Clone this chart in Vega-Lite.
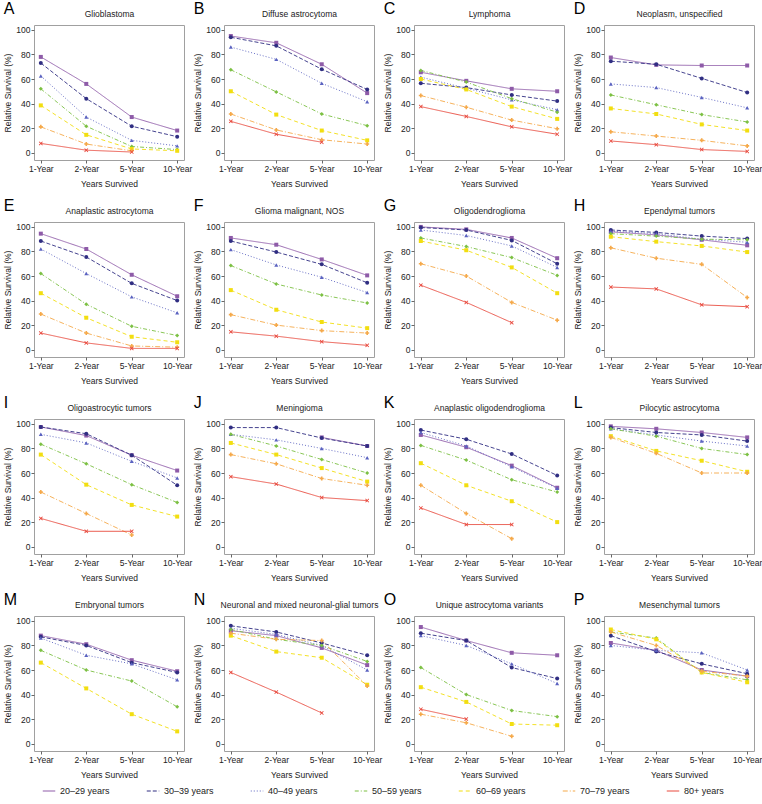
{
"$schema":"https://vega.github.io/schema/vega-lite/v6.json",
"padding":{"left":3,"top":0,"right":0,"bottom":0},
"data":{"name":"d"},
"datasets":{"d":[
{"p":"A","a":"20–29 years","x":"1-Year","v":78},{"p":"A","a":"20–29 years","x":"2-Year","v":56},{"p":"A","a":"20–29 years","x":"5-Year","v":29},{"p":"A","a":"20–29 years","x":"10-Year","v":18},
{"p":"A","a":"30–39 years","x":"1-Year","v":73},{"p":"A","a":"30–39 years","x":"2-Year","v":44},{"p":"A","a":"30–39 years","x":"5-Year","v":21.5},{"p":"A","a":"30–39 years","x":"10-Year","v":13},
{"p":"A","a":"40–49 years","x":"1-Year","v":62.5},{"p":"A","a":"40–49 years","x":"2-Year","v":29},{"p":"A","a":"40–49 years","x":"5-Year","v":10},{"p":"A","a":"40–49 years","x":"10-Year","v":5.5},
{"p":"A","a":"50–59 years","x":"1-Year","v":52},{"p":"A","a":"50–59 years","x":"2-Year","v":21.5},{"p":"A","a":"50–59 years","x":"5-Year","v":5},{"p":"A","a":"50–59 years","x":"10-Year","v":2.5},
{"p":"A","a":"60–69 years","x":"1-Year","v":38.5},{"p":"A","a":"60–69 years","x":"2-Year","v":14.5},{"p":"A","a":"60–69 years","x":"5-Year","v":3},{"p":"A","a":"60–69 years","x":"10-Year","v":1.5},
{"p":"A","a":"70–79 years","x":"1-Year","v":21},{"p":"A","a":"70–79 years","x":"2-Year","v":7},{"p":"A","a":"70–79 years","x":"5-Year","v":1.5},
{"p":"A","a":"80+ years","x":"1-Year","v":7.5},{"p":"A","a":"80+ years","x":"2-Year","v":2},{"p":"A","a":"80+ years","x":"5-Year","v":0.5},

{"p":"B","a":"20–29 years","x":"1-Year","v":95},{"p":"B","a":"20–29 years","x":"2-Year","v":89.5},{"p":"B","a":"20–29 years","x":"5-Year","v":72},{"p":"B","a":"20–29 years","x":"10-Year","v":48.5},
{"p":"B","a":"30–39 years","x":"1-Year","v":94},{"p":"B","a":"30–39 years","x":"2-Year","v":87},{"p":"B","a":"30–39 years","x":"5-Year","v":68},{"p":"B","a":"30–39 years","x":"10-Year","v":51.5},
{"p":"B","a":"40–49 years","x":"1-Year","v":86},{"p":"B","a":"40–49 years","x":"2-Year","v":76},{"p":"B","a":"40–49 years","x":"5-Year","v":56.5},{"p":"B","a":"40–49 years","x":"10-Year","v":41.5},
{"p":"B","a":"50–59 years","x":"1-Year","v":67.5},{"p":"B","a":"50–59 years","x":"2-Year","v":49.5},{"p":"B","a":"50–59 years","x":"5-Year","v":31.5},{"p":"B","a":"50–59 years","x":"10-Year","v":22},
{"p":"B","a":"60–69 years","x":"1-Year","v":50},{"p":"B","a":"60–69 years","x":"2-Year","v":31},{"p":"B","a":"60–69 years","x":"5-Year","v":18},{"p":"B","a":"60–69 years","x":"10-Year","v":10},
{"p":"B","a":"70–79 years","x":"1-Year","v":31.5},{"p":"B","a":"70–79 years","x":"2-Year","v":18.5},{"p":"B","a":"70–79 years","x":"5-Year","v":10.5},{"p":"B","a":"70–79 years","x":"10-Year","v":7},
{"p":"B","a":"80+ years","x":"1-Year","v":25.5},{"p":"B","a":"80+ years","x":"2-Year","v":15},{"p":"B","a":"80+ years","x":"5-Year","v":8.5},

{"p":"C","a":"20–29 years","x":"1-Year","v":65.5},{"p":"C","a":"20–29 years","x":"2-Year","v":58.5},{"p":"C","a":"20–29 years","x":"5-Year","v":52},{"p":"C","a":"20–29 years","x":"10-Year","v":50},
{"p":"C","a":"30–39 years","x":"1-Year","v":56.5},{"p":"C","a":"30–39 years","x":"2-Year","v":53},{"p":"C","a":"30–39 years","x":"5-Year","v":47},{"p":"C","a":"30–39 years","x":"10-Year","v":42},
{"p":"C","a":"40–49 years","x":"1-Year","v":61.5},{"p":"C","a":"40–49 years","x":"2-Year","v":52.5},{"p":"C","a":"40–49 years","x":"5-Year","v":43},{"p":"C","a":"40–49 years","x":"10-Year","v":35},
{"p":"C","a":"50–59 years","x":"1-Year","v":67},{"p":"C","a":"50–59 years","x":"2-Year","v":57.5},{"p":"C","a":"50–59 years","x":"5-Year","v":44},{"p":"C","a":"50–59 years","x":"10-Year","v":33},
{"p":"C","a":"60–69 years","x":"1-Year","v":60},{"p":"C","a":"60–69 years","x":"2-Year","v":51.5},{"p":"C","a":"60–69 years","x":"5-Year","v":37.5},{"p":"C","a":"60–69 years","x":"10-Year","v":27.5},
{"p":"C","a":"70–79 years","x":"1-Year","v":46.5},{"p":"C","a":"70–79 years","x":"2-Year","v":37},{"p":"C","a":"70–79 years","x":"5-Year","v":26.5},{"p":"C","a":"70–79 years","x":"10-Year","v":19.5},
{"p":"C","a":"80+ years","x":"1-Year","v":37.5},{"p":"C","a":"80+ years","x":"2-Year","v":29.5},{"p":"C","a":"80+ years","x":"5-Year","v":21},{"p":"C","a":"80+ years","x":"10-Year","v":15},

{"p":"D","a":"20–29 years","x":"1-Year","v":77.5},{"p":"D","a":"20–29 years","x":"2-Year","v":71.5},{"p":"D","a":"20–29 years","x":"5-Year","v":71},{"p":"D","a":"20–29 years","x":"10-Year","v":71},
{"p":"D","a":"30–39 years","x":"1-Year","v":74.5},{"p":"D","a":"30–39 years","x":"2-Year","v":72},{"p":"D","a":"30–39 years","x":"5-Year","v":60.5},{"p":"D","a":"30–39 years","x":"10-Year","v":49},
{"p":"D","a":"40–49 years","x":"1-Year","v":56},{"p":"D","a":"40–49 years","x":"2-Year","v":53},{"p":"D","a":"40–49 years","x":"5-Year","v":45},{"p":"D","a":"40–49 years","x":"10-Year","v":36.5},
{"p":"D","a":"50–59 years","x":"1-Year","v":47},{"p":"D","a":"50–59 years","x":"2-Year","v":39},{"p":"D","a":"50–59 years","x":"5-Year","v":31},{"p":"D","a":"50–59 years","x":"10-Year","v":25},
{"p":"D","a":"60–69 years","x":"1-Year","v":36},{"p":"D","a":"60–69 years","x":"2-Year","v":31.5},{"p":"D","a":"60–69 years","x":"5-Year","v":23},{"p":"D","a":"60–69 years","x":"10-Year","v":18},
{"p":"D","a":"70–79 years","x":"1-Year","v":17},{"p":"D","a":"70–79 years","x":"2-Year","v":13.5},{"p":"D","a":"70–79 years","x":"5-Year","v":10},{"p":"D","a":"70–79 years","x":"10-Year","v":5.5},
{"p":"D","a":"80+ years","x":"1-Year","v":9.5},{"p":"D","a":"80+ years","x":"2-Year","v":6.5},{"p":"D","a":"80+ years","x":"5-Year","v":2.5},{"p":"D","a":"80+ years","x":"10-Year","v":1},

{"p":"E","a":"20–29 years","x":"1-Year","v":94.5},{"p":"E","a":"20–29 years","x":"2-Year","v":82},{"p":"E","a":"20–29 years","x":"5-Year","v":61},{"p":"E","a":"20–29 years","x":"10-Year","v":43.5},
{"p":"E","a":"30–39 years","x":"1-Year","v":88.5},{"p":"E","a":"30–39 years","x":"2-Year","v":75.5},{"p":"E","a":"30–39 years","x":"5-Year","v":54},{"p":"E","a":"30–39 years","x":"10-Year","v":40},
{"p":"E","a":"40–49 years","x":"1-Year","v":82},{"p":"E","a":"40–49 years","x":"2-Year","v":62},{"p":"E","a":"40–49 years","x":"5-Year","v":43},{"p":"E","a":"40–49 years","x":"10-Year","v":30},
{"p":"E","a":"50–59 years","x":"1-Year","v":62},{"p":"E","a":"50–59 years","x":"2-Year","v":37},{"p":"E","a":"50–59 years","x":"5-Year","v":19},{"p":"E","a":"50–59 years","x":"10-Year","v":11.5},
{"p":"E","a":"60–69 years","x":"1-Year","v":46},{"p":"E","a":"60–69 years","x":"2-Year","v":26},{"p":"E","a":"60–69 years","x":"5-Year","v":10.5},{"p":"E","a":"60–69 years","x":"10-Year","v":6},
{"p":"E","a":"70–79 years","x":"1-Year","v":29},{"p":"E","a":"70–79 years","x":"2-Year","v":13.5},{"p":"E","a":"70–79 years","x":"5-Year","v":3},{"p":"E","a":"70–79 years","x":"10-Year","v":2},
{"p":"E","a":"80+ years","x":"1-Year","v":13.5},{"p":"E","a":"80+ years","x":"2-Year","v":5.5},{"p":"E","a":"80+ years","x":"5-Year","v":1},{"p":"E","a":"80+ years","x":"10-Year","v":1},

{"p":"F","a":"20–29 years","x":"1-Year","v":91},{"p":"F","a":"20–29 years","x":"2-Year","v":85.5},{"p":"F","a":"20–29 years","x":"5-Year","v":73.5},{"p":"F","a":"20–29 years","x":"10-Year","v":60.5},
{"p":"F","a":"30–39 years","x":"1-Year","v":88.5},{"p":"F","a":"30–39 years","x":"2-Year","v":79.5},{"p":"F","a":"30–39 years","x":"5-Year","v":69.5},{"p":"F","a":"30–39 years","x":"10-Year","v":54.5},
{"p":"F","a":"40–49 years","x":"1-Year","v":81.5},{"p":"F","a":"40–49 years","x":"2-Year","v":69},{"p":"F","a":"40–49 years","x":"5-Year","v":59},{"p":"F","a":"40–49 years","x":"10-Year","v":46.5},
{"p":"F","a":"50–59 years","x":"1-Year","v":68.5},{"p":"F","a":"50–59 years","x":"2-Year","v":53.5},{"p":"F","a":"50–59 years","x":"5-Year","v":44.5},{"p":"F","a":"50–59 years","x":"10-Year","v":38},
{"p":"F","a":"60–69 years","x":"1-Year","v":48.5},{"p":"F","a":"60–69 years","x":"2-Year","v":32.5},{"p":"F","a":"60–69 years","x":"5-Year","v":22.5},{"p":"F","a":"60–69 years","x":"10-Year","v":17.5},
{"p":"F","a":"70–79 years","x":"1-Year","v":28.5},{"p":"F","a":"70–79 years","x":"2-Year","v":20},{"p":"F","a":"70–79 years","x":"5-Year","v":15.5},{"p":"F","a":"70–79 years","x":"10-Year","v":13.5},
{"p":"F","a":"80+ years","x":"1-Year","v":14.5},{"p":"F","a":"80+ years","x":"2-Year","v":11},{"p":"F","a":"80+ years","x":"5-Year","v":6.5},{"p":"F","a":"80+ years","x":"10-Year","v":3.5},

{"p":"G","a":"20–29 years","x":"1-Year","v":100},{"p":"G","a":"20–29 years","x":"2-Year","v":98},{"p":"G","a":"20–29 years","x":"5-Year","v":91},{"p":"G","a":"20–29 years","x":"10-Year","v":74.5},
{"p":"G","a":"30–39 years","x":"1-Year","v":99.5},{"p":"G","a":"30–39 years","x":"2-Year","v":97.5},{"p":"G","a":"30–39 years","x":"5-Year","v":89},{"p":"G","a":"30–39 years","x":"10-Year","v":70},
{"p":"G","a":"40–49 years","x":"1-Year","v":97.5},{"p":"G","a":"40–49 years","x":"2-Year","v":93},{"p":"G","a":"40–49 years","x":"5-Year","v":84.5},{"p":"G","a":"40–49 years","x":"10-Year","v":67},
{"p":"G","a":"50–59 years","x":"1-Year","v":91},{"p":"G","a":"50–59 years","x":"2-Year","v":84},{"p":"G","a":"50–59 years","x":"5-Year","v":75},{"p":"G","a":"50–59 years","x":"10-Year","v":60.5},
{"p":"G","a":"60–69 years","x":"1-Year","v":88.5},{"p":"G","a":"60–69 years","x":"2-Year","v":81},{"p":"G","a":"60–69 years","x":"5-Year","v":67},{"p":"G","a":"60–69 years","x":"10-Year","v":46},
{"p":"G","a":"70–79 years","x":"1-Year","v":70},{"p":"G","a":"70–79 years","x":"2-Year","v":60},{"p":"G","a":"70–79 years","x":"5-Year","v":38.5},{"p":"G","a":"70–79 years","x":"10-Year","v":24},
{"p":"G","a":"80+ years","x":"1-Year","v":52.5},{"p":"G","a":"80+ years","x":"2-Year","v":38.5},{"p":"G","a":"80+ years","x":"5-Year","v":22},

{"p":"H","a":"20–29 years","x":"1-Year","v":96},{"p":"H","a":"20–29 years","x":"2-Year","v":93.5},{"p":"H","a":"20–29 years","x":"5-Year","v":89.5},{"p":"H","a":"20–29 years","x":"10-Year","v":85},
{"p":"H","a":"30–39 years","x":"1-Year","v":97.5},{"p":"H","a":"30–39 years","x":"2-Year","v":95.5},{"p":"H","a":"30–39 years","x":"5-Year","v":92.5},{"p":"H","a":"30–39 years","x":"10-Year","v":90.5},
{"p":"H","a":"40–49 years","x":"1-Year","v":96.5},{"p":"H","a":"40–49 years","x":"2-Year","v":94.5},{"p":"H","a":"40–49 years","x":"5-Year","v":90},{"p":"H","a":"40–49 years","x":"10-Year","v":87.5},
{"p":"H","a":"50–59 years","x":"1-Year","v":94.5},{"p":"H","a":"50–59 years","x":"2-Year","v":92.5},{"p":"H","a":"50–59 years","x":"5-Year","v":90},{"p":"H","a":"50–59 years","x":"10-Year","v":89.5},
{"p":"H","a":"60–69 years","x":"1-Year","v":92},{"p":"H","a":"60–69 years","x":"2-Year","v":88},{"p":"H","a":"60–69 years","x":"5-Year","v":84.5},{"p":"H","a":"60–69 years","x":"10-Year","v":79.5},
{"p":"H","a":"70–79 years","x":"1-Year","v":83},{"p":"H","a":"70–79 years","x":"2-Year","v":74.5},{"p":"H","a":"70–79 years","x":"5-Year","v":69.5},{"p":"H","a":"70–79 years","x":"10-Year","v":42.5},
{"p":"H","a":"80+ years","x":"1-Year","v":51},{"p":"H","a":"80+ years","x":"2-Year","v":49.5},{"p":"H","a":"80+ years","x":"5-Year","v":36.5},{"p":"H","a":"80+ years","x":"10-Year","v":35},

{"p":"I","a":"20–29 years","x":"1-Year","v":97.5},{"p":"I","a":"20–29 years","x":"2-Year","v":90.5},{"p":"I","a":"20–29 years","x":"5-Year","v":74.5},{"p":"I","a":"20–29 years","x":"10-Year","v":62},
{"p":"I","a":"30–39 years","x":"1-Year","v":97.5},{"p":"I","a":"30–39 years","x":"2-Year","v":92},{"p":"I","a":"30–39 years","x":"5-Year","v":74.5},{"p":"I","a":"30–39 years","x":"10-Year","v":50},
{"p":"I","a":"40–49 years","x":"1-Year","v":91.5},{"p":"I","a":"40–49 years","x":"2-Year","v":84.5},{"p":"I","a":"40–49 years","x":"5-Year","v":69.5},{"p":"I","a":"40–49 years","x":"10-Year","v":56},
{"p":"I","a":"50–59 years","x":"1-Year","v":83.5},{"p":"I","a":"50–59 years","x":"2-Year","v":67.5},{"p":"I","a":"50–59 years","x":"5-Year","v":50.5},{"p":"I","a":"50–59 years","x":"10-Year","v":36},
{"p":"I","a":"60–69 years","x":"1-Year","v":75},{"p":"I","a":"60–69 years","x":"2-Year","v":50.5},{"p":"I","a":"60–69 years","x":"5-Year","v":34},{"p":"I","a":"60–69 years","x":"10-Year","v":24.5},
{"p":"I","a":"70–79 years","x":"1-Year","v":44.5},{"p":"I","a":"70–79 years","x":"2-Year","v":27},{"p":"I","a":"70–79 years","x":"5-Year","v":9.5},
{"p":"I","a":"80+ years","x":"1-Year","v":23},{"p":"I","a":"80+ years","x":"2-Year","v":12.5},{"p":"I","a":"80+ years","x":"5-Year","v":12.5},

{"p":"J","a":"20–29 years","x":"5-Year","v":89},{"p":"J","a":"20–29 years","x":"10-Year","v":82},
{"p":"J","a":"30–39 years","x":"1-Year","v":97},{"p":"J","a":"30–39 years","x":"2-Year","v":97},{"p":"J","a":"30–39 years","x":"5-Year","v":88.5},{"p":"J","a":"30–39 years","x":"10-Year","v":82},
{"p":"J","a":"40–49 years","x":"1-Year","v":91.5},{"p":"J","a":"40–49 years","x":"2-Year","v":87},{"p":"J","a":"40–49 years","x":"5-Year","v":80},{"p":"J","a":"40–49 years","x":"10-Year","v":72.5},
{"p":"J","a":"50–59 years","x":"1-Year","v":91.5},{"p":"J","a":"50–59 years","x":"2-Year","v":82},{"p":"J","a":"50–59 years","x":"5-Year","v":71},{"p":"J","a":"50–59 years","x":"10-Year","v":60},
{"p":"J","a":"60–69 years","x":"1-Year","v":84.5},{"p":"J","a":"60–69 years","x":"2-Year","v":75},{"p":"J","a":"60–69 years","x":"5-Year","v":64},{"p":"J","a":"60–69 years","x":"10-Year","v":53},
{"p":"J","a":"70–79 years","x":"1-Year","v":75},{"p":"J","a":"70–79 years","x":"2-Year","v":67.5},{"p":"J","a":"70–79 years","x":"5-Year","v":55.5},{"p":"J","a":"70–79 years","x":"10-Year","v":50},
{"p":"J","a":"80+ years","x":"1-Year","v":57},{"p":"J","a":"80+ years","x":"2-Year","v":51},{"p":"J","a":"80+ years","x":"5-Year","v":40},{"p":"J","a":"80+ years","x":"10-Year","v":37.5},

{"p":"K","a":"20–29 years","x":"1-Year","v":91},{"p":"K","a":"20–29 years","x":"2-Year","v":81},{"p":"K","a":"20–29 years","x":"5-Year","v":66},{"p":"K","a":"20–29 years","x":"10-Year","v":48},
{"p":"K","a":"30–39 years","x":"1-Year","v":95},{"p":"K","a":"30–39 years","x":"2-Year","v":87.5},{"p":"K","a":"30–39 years","x":"5-Year","v":75.5},{"p":"K","a":"30–39 years","x":"10-Year","v":58},
{"p":"K","a":"40–49 years","x":"1-Year","v":93},{"p":"K","a":"40–49 years","x":"2-Year","v":82},{"p":"K","a":"40–49 years","x":"5-Year","v":65},{"p":"K","a":"40–49 years","x":"10-Year","v":47.5},
{"p":"K","a":"50–59 years","x":"1-Year","v":82.5},{"p":"K","a":"50–59 years","x":"2-Year","v":70.5},{"p":"K","a":"50–59 years","x":"5-Year","v":54.5},{"p":"K","a":"50–59 years","x":"10-Year","v":44.5},
{"p":"K","a":"60–69 years","x":"1-Year","v":68},{"p":"K","a":"60–69 years","x":"2-Year","v":50},{"p":"K","a":"60–69 years","x":"5-Year","v":37},{"p":"K","a":"60–69 years","x":"10-Year","v":20},
{"p":"K","a":"70–79 years","x":"1-Year","v":50},{"p":"K","a":"70–79 years","x":"2-Year","v":27},{"p":"K","a":"70–79 years","x":"5-Year","v":6.5},
{"p":"K","a":"80+ years","x":"1-Year","v":31.5},{"p":"K","a":"80+ years","x":"2-Year","v":18},{"p":"K","a":"80+ years","x":"5-Year","v":18},

{"p":"L","a":"20–29 years","x":"1-Year","v":98},{"p":"L","a":"20–29 years","x":"2-Year","v":96},{"p":"L","a":"20–29 years","x":"5-Year","v":93},{"p":"L","a":"20–29 years","x":"10-Year","v":89},
{"p":"L","a":"30–39 years","x":"1-Year","v":97},{"p":"L","a":"30–39 years","x":"2-Year","v":93},{"p":"L","a":"30–39 years","x":"5-Year","v":91},{"p":"L","a":"30–39 years","x":"10-Year","v":86},
{"p":"L","a":"40–49 years","x":"1-Year","v":96},{"p":"L","a":"40–49 years","x":"2-Year","v":91},{"p":"L","a":"40–49 years","x":"5-Year","v":86},{"p":"L","a":"40–49 years","x":"10-Year","v":82},
{"p":"L","a":"50–59 years","x":"1-Year","v":96},{"p":"L","a":"50–59 years","x":"2-Year","v":90},{"p":"L","a":"50–59 years","x":"5-Year","v":80},{"p":"L","a":"50–59 years","x":"10-Year","v":75},
{"p":"L","a":"60–69 years","x":"1-Year","v":90},{"p":"L","a":"60–69 years","x":"2-Year","v":78},{"p":"L","a":"60–69 years","x":"5-Year","v":70},{"p":"L","a":"60–69 years","x":"10-Year","v":61},
{"p":"L","a":"70–79 years","x":"1-Year","v":89},{"p":"L","a":"70–79 years","x":"2-Year","v":76},{"p":"L","a":"70–79 years","x":"5-Year","v":60},{"p":"L","a":"70–79 years","x":"10-Year","v":60},

{"p":"M","a":"20–29 years","x":"1-Year","v":88},{"p":"M","a":"20–29 years","x":"2-Year","v":81},{"p":"M","a":"20–29 years","x":"5-Year","v":68},{"p":"M","a":"20–29 years","x":"10-Year","v":59},
{"p":"M","a":"30–39 years","x":"1-Year","v":87},{"p":"M","a":"30–39 years","x":"2-Year","v":80},{"p":"M","a":"30–39 years","x":"5-Year","v":66},{"p":"M","a":"30–39 years","x":"10-Year","v":58},
{"p":"M","a":"40–49 years","x":"1-Year","v":86},{"p":"M","a":"40–49 years","x":"2-Year","v":72},{"p":"M","a":"40–49 years","x":"5-Year","v":65},{"p":"M","a":"40–49 years","x":"10-Year","v":52},
{"p":"M","a":"50–59 years","x":"1-Year","v":76},{"p":"M","a":"50–59 years","x":"2-Year","v":60},{"p":"M","a":"50–59 years","x":"5-Year","v":51},{"p":"M","a":"50–59 years","x":"10-Year","v":30},
{"p":"M","a":"60–69 years","x":"1-Year","v":66},{"p":"M","a":"60–69 years","x":"2-Year","v":45},{"p":"M","a":"60–69 years","x":"5-Year","v":24},{"p":"M","a":"60–69 years","x":"10-Year","v":10},

{"p":"N","a":"20–29 years","x":"1-Year","v":92},{"p":"N","a":"20–29 years","x":"2-Year","v":88},{"p":"N","a":"20–29 years","x":"5-Year","v":78},{"p":"N","a":"20–29 years","x":"10-Year","v":64},
{"p":"N","a":"30–39 years","x":"1-Year","v":96},{"p":"N","a":"30–39 years","x":"2-Year","v":91},{"p":"N","a":"30–39 years","x":"5-Year","v":82},{"p":"N","a":"30–39 years","x":"10-Year","v":72},
{"p":"N","a":"40–49 years","x":"1-Year","v":94},{"p":"N","a":"40–49 years","x":"2-Year","v":89},{"p":"N","a":"40–49 years","x":"5-Year","v":80},{"p":"N","a":"40–49 years","x":"10-Year","v":60},
{"p":"N","a":"50–59 years","x":"1-Year","v":93},{"p":"N","a":"50–59 years","x":"2-Year","v":85},{"p":"N","a":"50–59 years","x":"5-Year","v":80},{"p":"N","a":"50–59 years","x":"10-Year","v":67},
{"p":"N","a":"60–69 years","x":"1-Year","v":88},{"p":"N","a":"60–69 years","x":"2-Year","v":75},{"p":"N","a":"60–69 years","x":"5-Year","v":70},{"p":"N","a":"60–69 years","x":"10-Year","v":48},
{"p":"N","a":"70–79 years","x":"1-Year","v":90},{"p":"N","a":"70–79 years","x":"2-Year","v":85},{"p":"N","a":"70–79 years","x":"5-Year","v":84},{"p":"N","a":"70–79 years","x":"10-Year","v":47},
{"p":"N","a":"80+ years","x":"1-Year","v":58},{"p":"N","a":"80+ years","x":"2-Year","v":42},{"p":"N","a":"80+ years","x":"5-Year","v":25},

{"p":"O","a":"20–29 years","x":"1-Year","v":95},{"p":"O","a":"20–29 years","x":"2-Year","v":84},{"p":"O","a":"20–29 years","x":"5-Year","v":74},{"p":"O","a":"20–29 years","x":"10-Year","v":72},
{"p":"O","a":"30–39 years","x":"1-Year","v":90},{"p":"O","a":"30–39 years","x":"2-Year","v":84},{"p":"O","a":"30–39 years","x":"5-Year","v":62},{"p":"O","a":"30–39 years","x":"10-Year","v":53},
{"p":"O","a":"40–49 years","x":"1-Year","v":88},{"p":"O","a":"40–49 years","x":"2-Year","v":80},{"p":"O","a":"40–49 years","x":"5-Year","v":65},{"p":"O","a":"40–49 years","x":"10-Year","v":49},
{"p":"O","a":"50–59 years","x":"1-Year","v":62},{"p":"O","a":"50–59 years","x":"2-Year","v":40},{"p":"O","a":"50–59 years","x":"5-Year","v":27},{"p":"O","a":"50–59 years","x":"10-Year","v":22},
{"p":"O","a":"60–69 years","x":"1-Year","v":46},{"p":"O","a":"60–69 years","x":"2-Year","v":34},{"p":"O","a":"60–69 years","x":"5-Year","v":16},{"p":"O","a":"60–69 years","x":"10-Year","v":15},
{"p":"O","a":"70–79 years","x":"1-Year","v":24},{"p":"O","a":"70–79 years","x":"2-Year","v":17},{"p":"O","a":"70–79 years","x":"5-Year","v":6},
{"p":"O","a":"80+ years","x":"1-Year","v":28},{"p":"O","a":"80+ years","x":"2-Year","v":20},

{"p":"P","a":"20–29 years","x":"1-Year","v":82},{"p":"P","a":"20–29 years","x":"2-Year","v":76},{"p":"P","a":"20–29 years","x":"5-Year","v":60},{"p":"P","a":"20–29 years","x":"10-Year","v":55},
{"p":"P","a":"30–39 years","x":"1-Year","v":88},{"p":"P","a":"30–39 years","x":"2-Year","v":75},{"p":"P","a":"30–39 years","x":"5-Year","v":65},{"p":"P","a":"30–39 years","x":"10-Year","v":57},
{"p":"P","a":"40–49 years","x":"1-Year","v":80},{"p":"P","a":"40–49 years","x":"2-Year","v":76},{"p":"P","a":"40–49 years","x":"5-Year","v":74},{"p":"P","a":"40–49 years","x":"10-Year","v":60},
{"p":"P","a":"50–59 years","x":"1-Year","v":91},{"p":"P","a":"50–59 years","x":"2-Year","v":86},{"p":"P","a":"50–59 years","x":"5-Year","v":58},{"p":"P","a":"50–59 years","x":"10-Year","v":52},
{"p":"P","a":"60–69 years","x":"1-Year","v":93},{"p":"P","a":"60–69 years","x":"2-Year","v":85},{"p":"P","a":"60–69 years","x":"5-Year","v":58},{"p":"P","a":"60–69 years","x":"10-Year","v":50},
{"p":"P","a":"70–79 years","x":"1-Year","v":91},{"p":"P","a":"70–79 years","x":"2-Year","v":80},{"p":"P","a":"70–79 years","x":"5-Year","v":59},{"p":"P","a":"70–79 years","x":"10-Year","v":55}
]},
"columns":4,
"spacing":{"row":62,"column":40},
"bounds":"flush",
"concat":[
{"title":"A","transform":[{"filter":"datum.p==='A'"}],"layer":[
 {"mark":{"type":"line","strokeWidth":0.9},"encoding":{
  "x":{"field":"x","type":"ordinal","sort":["1-Year","2-Year","5-Year","10-Year"],"scale":{"type":"point"},"axis":{"title":"Years Survived"}},
  "y":{"field":"v","type":"quantitative","scale":{"domain":[-6,104],"nice":false,"zero":false},"axis":{"title":"Relative Survival (%)","values":[0,20,40,60,80,100],"labelOverlap":false}},
  "color":{"field":"a","type":"nominal","scale":{"domain":["20–29 years","30–39 years","40–49 years","50–59 years","60–69 years","70–79 years","80+ years"],"range":["#8e5ba8","#302e82","#5a62c0","#7cc043","#f2de10","#f5a94a","#e8483c"]},
   "legend":{"title":null,"orient":"none","direction":"horizontal","legendX":8,"legendY":759,"symbolType":"stroke","symbolSize":156,"symbolStrokeWidth":1.2,"labelFontSize":9,"columnPadding":34,"labelOffset":4}},
  "strokeDash":{"field":"a","type":"nominal","scale":{"domain":["20–29 years","30–39 years","40–49 years","50–59 years","60–69 years","70–79 years","80+ years"],"range":[[1,0],[4,2],[1,2],[4,2,1,2],[4,3],[5,2,1,2],[1,0]]}}}},
 {"mark":{"type":"point","filled":true,"size":16,"opacity":1},"encoding":{
  "x":{"field":"x","type":"ordinal","sort":["1-Year","2-Year","5-Year","10-Year"],"axis":{"orient":"top","title":"Glioblastoma"}},
  "y":{"field":"v","type":"quantitative","axis":{"title":"Relative Survival (%)","values":[0,20,40,60,80,100],"labelOverlap":false}},
  "color":{"field":"a","type":"nominal","legend":null},
  "shape":{"field":"a","type":"nominal","legend":null,"scale":{"range":["square","circle","triangle-up","diamond","square","cross","M0,-0.3L0.7,-1L1,-0.7L0.3,0L1,0.7L0.7,1L0,0.3L-0.7,1L-1,0.7L-0.3,0L-1,-0.7L-0.7,-1Z"]}}}}
 ],"resolve":{"axis":{"x":"independent"}}},
{"title":"B","transform":[{"filter":"datum.p==='B'"}],"layer":[
 {"mark":{"type":"line","strokeWidth":0.9},"encoding":{"x":{"field":"x","type":"ordinal","sort":["1-Year","2-Year","5-Year","10-Year"],"scale":{"type":"point"},"axis":{"title":"Years Survived"}},"y":{"field":"v","type":"quantitative","scale":{"domain":[-6,104],"nice":false,"zero":false},"axis":{"title":"Relative Survival (%)","values":[0,20,40,60,80,100],"labelOverlap":false}},"color":{"field":"a","type":"nominal"},"strokeDash":{"field":"a","type":"nominal"}}},
 {"mark":{"type":"point","filled":true,"size":16,"opacity":1},"encoding":{"x":{"field":"x","type":"ordinal","sort":["1-Year","2-Year","5-Year","10-Year"],"axis":{"orient":"top","title":"Diffuse astrocytoma"}},"y":{"field":"v","type":"quantitative","axis":{"title":"Relative Survival (%)","values":[0,20,40,60,80,100],"labelOverlap":false}},"color":{"field":"a","type":"nominal","legend":null},"shape":{"field":"a","type":"nominal","legend":null}}}
 ],"resolve":{"axis":{"x":"independent"}}},
{"title":"C","transform":[{"filter":"datum.p==='C'"}],"layer":[
 {"mark":{"type":"line","strokeWidth":0.9},"encoding":{"x":{"field":"x","type":"ordinal","sort":["1-Year","2-Year","5-Year","10-Year"],"scale":{"type":"point"},"axis":{"title":"Years Survived"}},"y":{"field":"v","type":"quantitative","scale":{"domain":[-6,104],"nice":false,"zero":false},"axis":{"title":"Relative Survival (%)","values":[0,20,40,60,80,100],"labelOverlap":false}},"color":{"field":"a","type":"nominal"},"strokeDash":{"field":"a","type":"nominal"}}},
 {"mark":{"type":"point","filled":true,"size":16,"opacity":1},"encoding":{"x":{"field":"x","type":"ordinal","sort":["1-Year","2-Year","5-Year","10-Year"],"axis":{"orient":"top","title":"Lymphoma"}},"y":{"field":"v","type":"quantitative","axis":{"title":"Relative Survival (%)","values":[0,20,40,60,80,100],"labelOverlap":false}},"color":{"field":"a","type":"nominal","legend":null},"shape":{"field":"a","type":"nominal","legend":null}}}
 ],"resolve":{"axis":{"x":"independent"}}},
{"title":"D","transform":[{"filter":"datum.p==='D'"}],"layer":[
 {"mark":{"type":"line","strokeWidth":0.9},"encoding":{"x":{"field":"x","type":"ordinal","sort":["1-Year","2-Year","5-Year","10-Year"],"scale":{"type":"point"},"axis":{"title":"Years Survived"}},"y":{"field":"v","type":"quantitative","scale":{"domain":[-6,104],"nice":false,"zero":false},"axis":{"title":"Relative Survival (%)","values":[0,20,40,60,80,100],"labelOverlap":false}},"color":{"field":"a","type":"nominal"},"strokeDash":{"field":"a","type":"nominal"}}},
 {"mark":{"type":"point","filled":true,"size":16,"opacity":1},"encoding":{"x":{"field":"x","type":"ordinal","sort":["1-Year","2-Year","5-Year","10-Year"],"axis":{"orient":"top","title":"Neoplasm, unspecified"}},"y":{"field":"v","type":"quantitative","axis":{"title":"Relative Survival (%)","values":[0,20,40,60,80,100],"labelOverlap":false}},"color":{"field":"a","type":"nominal","legend":null},"shape":{"field":"a","type":"nominal","legend":null}}}
 ],"resolve":{"axis":{"x":"independent"}}},
{"title":"E","transform":[{"filter":"datum.p==='E'"}],"layer":[
 {"mark":{"type":"line","strokeWidth":0.9},"encoding":{"x":{"field":"x","type":"ordinal","sort":["1-Year","2-Year","5-Year","10-Year"],"scale":{"type":"point"},"axis":{"title":"Years Survived"}},"y":{"field":"v","type":"quantitative","scale":{"domain":[-6,104],"nice":false,"zero":false},"axis":{"title":"Relative Survival (%)","values":[0,20,40,60,80,100],"labelOverlap":false}},"color":{"field":"a","type":"nominal"},"strokeDash":{"field":"a","type":"nominal"}}},
 {"mark":{"type":"point","filled":true,"size":16,"opacity":1},"encoding":{"x":{"field":"x","type":"ordinal","sort":["1-Year","2-Year","5-Year","10-Year"],"axis":{"orient":"top","title":"Anaplastic astrocytoma"}},"y":{"field":"v","type":"quantitative","axis":{"title":"Relative Survival (%)","values":[0,20,40,60,80,100],"labelOverlap":false}},"color":{"field":"a","type":"nominal","legend":null},"shape":{"field":"a","type":"nominal","legend":null}}}
 ],"resolve":{"axis":{"x":"independent"}}},
{"title":"F","transform":[{"filter":"datum.p==='F'"}],"layer":[
 {"mark":{"type":"line","strokeWidth":0.9},"encoding":{"x":{"field":"x","type":"ordinal","sort":["1-Year","2-Year","5-Year","10-Year"],"scale":{"type":"point"},"axis":{"title":"Years Survived"}},"y":{"field":"v","type":"quantitative","scale":{"domain":[-6,104],"nice":false,"zero":false},"axis":{"title":"Relative Survival (%)","values":[0,20,40,60,80,100],"labelOverlap":false}},"color":{"field":"a","type":"nominal"},"strokeDash":{"field":"a","type":"nominal"}}},
 {"mark":{"type":"point","filled":true,"size":16,"opacity":1},"encoding":{"x":{"field":"x","type":"ordinal","sort":["1-Year","2-Year","5-Year","10-Year"],"axis":{"orient":"top","title":"Glioma malignant, NOS"}},"y":{"field":"v","type":"quantitative","axis":{"title":"Relative Survival (%)","values":[0,20,40,60,80,100],"labelOverlap":false}},"color":{"field":"a","type":"nominal","legend":null},"shape":{"field":"a","type":"nominal","legend":null}}}
 ],"resolve":{"axis":{"x":"independent"}}},
{"title":"G","transform":[{"filter":"datum.p==='G'"}],"layer":[
 {"mark":{"type":"line","strokeWidth":0.9},"encoding":{"x":{"field":"x","type":"ordinal","sort":["1-Year","2-Year","5-Year","10-Year"],"scale":{"type":"point"},"axis":{"title":"Years Survived"}},"y":{"field":"v","type":"quantitative","scale":{"domain":[-6,104],"nice":false,"zero":false},"axis":{"title":"Relative Survival (%)","values":[0,20,40,60,80,100],"labelOverlap":false}},"color":{"field":"a","type":"nominal"},"strokeDash":{"field":"a","type":"nominal"}}},
 {"mark":{"type":"point","filled":true,"size":16,"opacity":1},"encoding":{"x":{"field":"x","type":"ordinal","sort":["1-Year","2-Year","5-Year","10-Year"],"axis":{"orient":"top","title":"Oligodendroglioma"}},"y":{"field":"v","type":"quantitative","axis":{"title":"Relative Survival (%)","values":[0,20,40,60,80,100],"labelOverlap":false}},"color":{"field":"a","type":"nominal","legend":null},"shape":{"field":"a","type":"nominal","legend":null}}}
 ],"resolve":{"axis":{"x":"independent"}}},
{"title":"H","transform":[{"filter":"datum.p==='H'"}],"layer":[
 {"mark":{"type":"line","strokeWidth":0.9},"encoding":{"x":{"field":"x","type":"ordinal","sort":["1-Year","2-Year","5-Year","10-Year"],"scale":{"type":"point"},"axis":{"title":"Years Survived"}},"y":{"field":"v","type":"quantitative","scale":{"domain":[-6,104],"nice":false,"zero":false},"axis":{"title":"Relative Survival (%)","values":[0,20,40,60,80,100],"labelOverlap":false}},"color":{"field":"a","type":"nominal"},"strokeDash":{"field":"a","type":"nominal"}}},
 {"mark":{"type":"point","filled":true,"size":16,"opacity":1},"encoding":{"x":{"field":"x","type":"ordinal","sort":["1-Year","2-Year","5-Year","10-Year"],"axis":{"orient":"top","title":"Ependymal tumors"}},"y":{"field":"v","type":"quantitative","axis":{"title":"Relative Survival (%)","values":[0,20,40,60,80,100],"labelOverlap":false}},"color":{"field":"a","type":"nominal","legend":null},"shape":{"field":"a","type":"nominal","legend":null}}}
 ],"resolve":{"axis":{"x":"independent"}}},
{"title":"I","transform":[{"filter":"datum.p==='I'"}],"layer":[
 {"mark":{"type":"line","strokeWidth":0.9},"encoding":{"x":{"field":"x","type":"ordinal","sort":["1-Year","2-Year","5-Year","10-Year"],"scale":{"type":"point"},"axis":{"title":"Years Survived"}},"y":{"field":"v","type":"quantitative","scale":{"domain":[-6,104],"nice":false,"zero":false},"axis":{"title":"Relative Survival (%)","values":[0,20,40,60,80,100],"labelOverlap":false}},"color":{"field":"a","type":"nominal"},"strokeDash":{"field":"a","type":"nominal"}}},
 {"mark":{"type":"point","filled":true,"size":16,"opacity":1},"encoding":{"x":{"field":"x","type":"ordinal","sort":["1-Year","2-Year","5-Year","10-Year"],"axis":{"orient":"top","title":"Oligoastrocytic tumors"}},"y":{"field":"v","type":"quantitative","axis":{"title":"Relative Survival (%)","values":[0,20,40,60,80,100],"labelOverlap":false}},"color":{"field":"a","type":"nominal","legend":null},"shape":{"field":"a","type":"nominal","legend":null}}}
 ],"resolve":{"axis":{"x":"independent"}}},
{"title":"J","transform":[{"filter":"datum.p==='J'"}],"layer":[
 {"mark":{"type":"line","strokeWidth":0.9},"encoding":{"x":{"field":"x","type":"ordinal","sort":["1-Year","2-Year","5-Year","10-Year"],"scale":{"type":"point"},"axis":{"title":"Years Survived"}},"y":{"field":"v","type":"quantitative","scale":{"domain":[-6,104],"nice":false,"zero":false},"axis":{"title":"Relative Survival (%)","values":[0,20,40,60,80,100],"labelOverlap":false}},"color":{"field":"a","type":"nominal"},"strokeDash":{"field":"a","type":"nominal"}}},
 {"mark":{"type":"point","filled":true,"size":16,"opacity":1},"encoding":{"x":{"field":"x","type":"ordinal","sort":["1-Year","2-Year","5-Year","10-Year"],"axis":{"orient":"top","title":"Meningioma"}},"y":{"field":"v","type":"quantitative","axis":{"title":"Relative Survival (%)","values":[0,20,40,60,80,100],"labelOverlap":false}},"color":{"field":"a","type":"nominal","legend":null},"shape":{"field":"a","type":"nominal","legend":null}}}
 ],"resolve":{"axis":{"x":"independent"}}},
{"title":"K","transform":[{"filter":"datum.p==='K'"}],"layer":[
 {"mark":{"type":"line","strokeWidth":0.9},"encoding":{"x":{"field":"x","type":"ordinal","sort":["1-Year","2-Year","5-Year","10-Year"],"scale":{"type":"point"},"axis":{"title":"Years Survived"}},"y":{"field":"v","type":"quantitative","scale":{"domain":[-6,104],"nice":false,"zero":false},"axis":{"title":"Relative Survival (%)","values":[0,20,40,60,80,100],"labelOverlap":false}},"color":{"field":"a","type":"nominal"},"strokeDash":{"field":"a","type":"nominal"}}},
 {"mark":{"type":"point","filled":true,"size":16,"opacity":1},"encoding":{"x":{"field":"x","type":"ordinal","sort":["1-Year","2-Year","5-Year","10-Year"],"axis":{"orient":"top","title":"Anaplastic oligodendroglioma"}},"y":{"field":"v","type":"quantitative","axis":{"title":"Relative Survival (%)","values":[0,20,40,60,80,100],"labelOverlap":false}},"color":{"field":"a","type":"nominal","legend":null},"shape":{"field":"a","type":"nominal","legend":null}}}
 ],"resolve":{"axis":{"x":"independent"}}},
{"title":"L","transform":[{"filter":"datum.p==='L'"}],"layer":[
 {"mark":{"type":"line","strokeWidth":0.9},"encoding":{"x":{"field":"x","type":"ordinal","sort":["1-Year","2-Year","5-Year","10-Year"],"scale":{"type":"point"},"axis":{"title":"Years Survived"}},"y":{"field":"v","type":"quantitative","scale":{"domain":[-6,104],"nice":false,"zero":false},"axis":{"title":"Relative Survival (%)","values":[0,20,40,60,80,100],"labelOverlap":false}},"color":{"field":"a","type":"nominal"},"strokeDash":{"field":"a","type":"nominal"}}},
 {"mark":{"type":"point","filled":true,"size":16,"opacity":1},"encoding":{"x":{"field":"x","type":"ordinal","sort":["1-Year","2-Year","5-Year","10-Year"],"axis":{"orient":"top","title":"Pilocytic astrocytoma"}},"y":{"field":"v","type":"quantitative","axis":{"title":"Relative Survival (%)","values":[0,20,40,60,80,100],"labelOverlap":false}},"color":{"field":"a","type":"nominal","legend":null},"shape":{"field":"a","type":"nominal","legend":null}}}
 ],"resolve":{"axis":{"x":"independent"}}},
{"title":"M","transform":[{"filter":"datum.p==='M'"}],"layer":[
 {"mark":{"type":"line","strokeWidth":0.9},"encoding":{"x":{"field":"x","type":"ordinal","sort":["1-Year","2-Year","5-Year","10-Year"],"scale":{"type":"point"},"axis":{"title":"Years Survived"}},"y":{"field":"v","type":"quantitative","scale":{"domain":[-6,104],"nice":false,"zero":false},"axis":{"title":"Relative Survival (%)","values":[0,20,40,60,80,100],"labelOverlap":false}},"color":{"field":"a","type":"nominal"},"strokeDash":{"field":"a","type":"nominal"}}},
 {"mark":{"type":"point","filled":true,"size":16,"opacity":1},"encoding":{"x":{"field":"x","type":"ordinal","sort":["1-Year","2-Year","5-Year","10-Year"],"axis":{"orient":"top","title":"Embryonal tumors"}},"y":{"field":"v","type":"quantitative","axis":{"title":"Relative Survival (%)","values":[0,20,40,60,80,100],"labelOverlap":false}},"color":{"field":"a","type":"nominal","legend":null},"shape":{"field":"a","type":"nominal","legend":null}}}
 ],"resolve":{"axis":{"x":"independent"}}},
{"title":"N","transform":[{"filter":"datum.p==='N'"}],"layer":[
 {"mark":{"type":"line","strokeWidth":0.9},"encoding":{"x":{"field":"x","type":"ordinal","sort":["1-Year","2-Year","5-Year","10-Year"],"scale":{"type":"point"},"axis":{"title":"Years Survived"}},"y":{"field":"v","type":"quantitative","scale":{"domain":[-6,104],"nice":false,"zero":false},"axis":{"title":"Relative Survival (%)","values":[0,20,40,60,80,100],"labelOverlap":false}},"color":{"field":"a","type":"nominal"},"strokeDash":{"field":"a","type":"nominal"}}},
 {"mark":{"type":"point","filled":true,"size":16,"opacity":1},"encoding":{"x":{"field":"x","type":"ordinal","sort":["1-Year","2-Year","5-Year","10-Year"],"axis":{"orient":"top","title":"Neuronal and mixed neuronal-glial tumors"}},"y":{"field":"v","type":"quantitative","axis":{"title":"Relative Survival (%)","values":[0,20,40,60,80,100],"labelOverlap":false}},"color":{"field":"a","type":"nominal","legend":null},"shape":{"field":"a","type":"nominal","legend":null}}}
 ],"resolve":{"axis":{"x":"independent"}}},
{"title":"O","transform":[{"filter":"datum.p==='O'"}],"layer":[
 {"mark":{"type":"line","strokeWidth":0.9},"encoding":{"x":{"field":"x","type":"ordinal","sort":["1-Year","2-Year","5-Year","10-Year"],"scale":{"type":"point"},"axis":{"title":"Years Survived"}},"y":{"field":"v","type":"quantitative","scale":{"domain":[-6,104],"nice":false,"zero":false},"axis":{"title":"Relative Survival (%)","values":[0,20,40,60,80,100],"labelOverlap":false}},"color":{"field":"a","type":"nominal"},"strokeDash":{"field":"a","type":"nominal"}}},
 {"mark":{"type":"point","filled":true,"size":16,"opacity":1},"encoding":{"x":{"field":"x","type":"ordinal","sort":["1-Year","2-Year","5-Year","10-Year"],"axis":{"orient":"top","title":"Unique astrocytoma variants"}},"y":{"field":"v","type":"quantitative","axis":{"title":"Relative Survival (%)","values":[0,20,40,60,80,100],"labelOverlap":false}},"color":{"field":"a","type":"nominal","legend":null},"shape":{"field":"a","type":"nominal","legend":null}}}
 ],"resolve":{"axis":{"x":"independent"}}},
{"title":"P","transform":[{"filter":"datum.p==='P'"}],"layer":[
 {"mark":{"type":"line","strokeWidth":0.9},"encoding":{"x":{"field":"x","type":"ordinal","sort":["1-Year","2-Year","5-Year","10-Year"],"scale":{"type":"point"},"axis":{"title":"Years Survived"}},"y":{"field":"v","type":"quantitative","scale":{"domain":[-6,104],"nice":false,"zero":false},"axis":{"title":"Relative Survival (%)","values":[0,20,40,60,80,100],"labelOverlap":false}},"color":{"field":"a","type":"nominal"},"strokeDash":{"field":"a","type":"nominal"}}},
 {"mark":{"type":"point","filled":true,"size":16,"opacity":1},"encoding":{"x":{"field":"x","type":"ordinal","sort":["1-Year","2-Year","5-Year","10-Year"],"axis":{"orient":"top","title":"Mesenchymal tumors"}},"y":{"field":"v","type":"quantitative","axis":{"title":"Relative Survival (%)","values":[0,20,40,60,80,100],"labelOverlap":false}},"color":{"field":"a","type":"nominal","legend":null},"shape":{"field":"a","type":"nominal","legend":null}}}
 ],"resolve":{"axis":{"x":"independent"}}}
],
"config":{
 "font":"Liberation Sans",
 "view":{"continuousWidth":150,"continuousHeight":135,"discreteWidth":150,"discreteHeight":135,"stroke":"#a0a0a0","strokeWidth":1},
 "axis":{"domain":false,"grid":false,"labelFontSize":8.5,"titleFontSize":8.5,"titleFontWeight":"normal","labelColor":"#222","titleColor":"#222","tickColor":"#666","tickSize":3,"labelPadding":1},
 "axisX":{"labelAngle":0},
 "axisY":{"labelOverlap":false},
 "axisBottom":{"titlePadding":7},
 "axisLeft":{"titlePadding":3},
 "axisTop":{"labels":false,"ticks":false,"domain":false,"titlePadding":7},
 "title":{"anchor":"start","frame":"bounds","fontSize":16,"fontWeight":"normal","offset":-4,"dy":4,"color":"#000"},
 "scale":{"pointPadding":0.15},
 "legend":{"labelColor":"#222"}
}
}
